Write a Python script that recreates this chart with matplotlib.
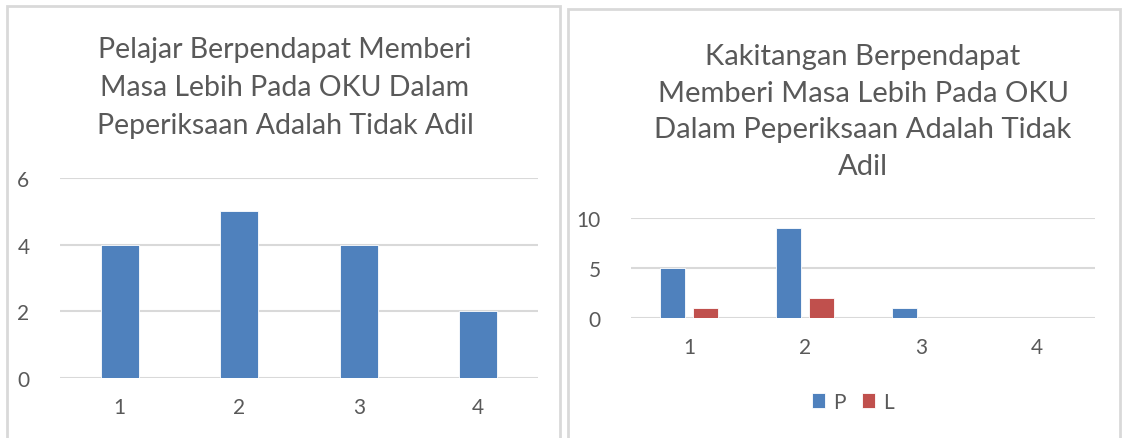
import matplotlib
matplotlib.use("Agg")
import matplotlib.pyplot as plt
from matplotlib.patches import Rectangle
import numpy as np

plt.rcParams['font.family'] = ['Lato', 'DejaVu Sans']

# survey counts per answer category
categories = [1, 2, 3, 4]
pelajar = [4, 5, 4, 2]
staff_p = [5, 9, 1, 0]
staff_l = [1, 2, 0, 0]

title_left = "Pelajar Berpendapat Memberi\nMasa Lebih Pada OKU Dalam\nPeperiksaan Adalah Tidak Adil"
title_right = "Kakitangan Berpendapat\nMemberi Masa Lebih Pada OKU\nDalam Peperiksaan Adalah Tidak\nAdil"

W, H = 1126, 439
BLUE = "#4f81bd"
RED = "#c0504d"
TXT = "#595959"
GRID = "#d9d9d9"

fig = plt.figure(figsize=(W / 100, H / 100), dpi=100)


def px_axes(x0, x1, ytop, ybot):
    return fig.add_axes([x0 / W, (H - ybot) / H, (x1 - x0) / W, (ybot - ytop) / H])


def style(ax, yticks):
    ax.set_xlim(0.5, 4.5)
    ax.set_ylim(yticks[0], yticks[-1])
    ax.set_yticks(yticks)
    ax.set_xticks(categories)
    ax.grid(axis='y', color=GRID, linewidth=1.5)
    ax.set_axisbelow(True)
    for s in ax.spines.values():
        s.set_visible(False)
    ax.tick_params(length=0, labelsize=15, labelcolor=TXT)
    ax.tick_params(axis='x', pad=14)
    ax.tick_params(axis='y', pad=22)


# panel frames (open at the bottom edge)
for x0, x1, y0 in [(7, 560, 7), (568, 1120, 10)]:
    fig.patches.append(Rectangle((x0 / W, -0.05), (x1 - x0) / W, (H - y0) / H + 0.05,
                                 transform=fig.transFigure, fill=False,
                                 edgecolor=GRID, linewidth=2, clip_on=False))

# left chart
ax1 = px_axes(60, 538, 179, 379)
ax1.bar(categories, pelajar, width=0.32, color=BLUE, edgecolor='white', linewidth=0.6)
style(ax1, [0, 2, 4, 6])
fig.text(285 / W, 1 - 88 / H, title_left, ha='center', va='center',
         fontsize=20.5, color=TXT, linespacing=1.55)

# right chart
ax2 = px_axes(631, 1095, 219, 319)
x = np.array(categories)
ax2.bar(x - 0.142, staff_p, width=0.215, color=BLUE, edgecolor='white', linewidth=0.6, label='P')
ax2.bar(x + 0.142, staff_l, width=0.215, color=RED, edgecolor='white', linewidth=0.6, label='L')
style(ax2, [0, 5, 10])
fig.text(863 / W, 1 - 112 / H, title_right, ha='center', va='center',
         fontsize=21, color=TXT, linespacing=1.52)
fig.legend(loc='center', bbox_to_anchor=(853 / W, 1 - 403 / H), ncol=2, frameon=False,
           fontsize=15, labelcolor=TXT, handlelength=0.6, handleheight=0.7,
           handletextpad=0.4, columnspacing=0.8)

fig.savefig("out.png", dpi=100, facecolor='white')
